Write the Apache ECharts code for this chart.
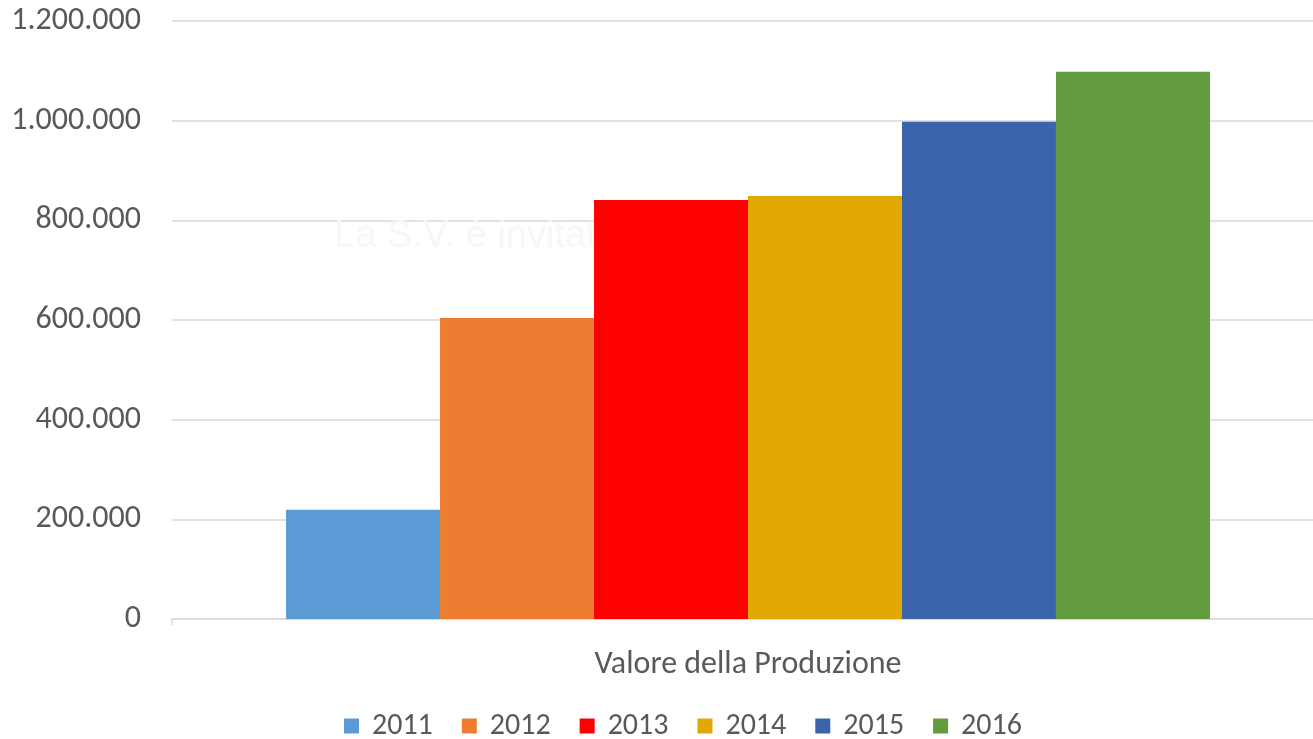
<!DOCTYPE html>
<html>
<head>
<meta charset="utf-8">
<script src="https://cdn.jsdelivr.net/npm/echarts@6/dist/echarts.min.js"></script>
<style>
html,body{margin:0;padding:0;background:#fff;}
#c{width:1313px;height:739px;}
</style>
</head>
<body>
<div id="c"></div>
<script>
const categories = ['Valore della Produzione'];
const years = ['2011', '2012', '2013', '2014', '2015', '2016'];
const values = [219000, 604000, 841000, 849000, 998000, 1098000];
const colors = ['#5b9bd5', '#ed7d31', '#ff0000', '#e0a800', '#3c64ac', '#629a3e'];
const yTicks = { min: 0, max: 1200000, interval: 200000 };

function fmt(v) {
  return String(v).replace(/\B(?=(\d{3})+(?!\d))/g, '.');
}

const chart = echarts.init(document.getElementById('c'), null, { renderer: 'canvas' });
const font = 'Carlito, Calibri, "Open Sans", "Noto Sans", sans-serif';

chart.setOption({
  backgroundColor: '#ffffff',
  animation: false,
  textStyle: { fontFamily: font },
  graphic: [{
    type: 'text',
    left: 334,
    top: 218,
    z: 1,
    silent: true,
    style: {
      text: 'La S.V. è invitata',
      fontSize: 38,
      fontFamily: 'Liberation Sans, Arial, sans-serif',
      fill: '#f7f7f7'
    }
  }],
  grid: { left: 172, right: -11, top: 21, bottom: 120, containLabel: false, outerBoundsMode: 'none' },
  legend: {
    top: 706,
    left: 339,
    itemWidth: 15,
    itemHeight: 15,
    itemGap: 29,
    icon: 'rect',
    textStyle: { fontSize: 30, color: '#595959', fontFamily: font, padding: [0, 0, 0, 8] },
    data: years
  },
  xAxis: {
    type: 'category',
    data: categories,
    axisLine: { show: true, lineStyle: { color: '#d9d9d9', width: 1.5 } },
    axisTick: { show: true, length: 6, lineStyle: { color: '#d9d9d9', width: 1.5 } },
    axisLabel: { fontSize: 32, color: '#595959', margin: 30, fontFamily: font }
  },
  yAxis: {
    type: 'value',
    min: yTicks.min,
    max: yTicks.max,
    interval: yTicks.interval,
    axisLine: { show: false },
    axisTick: { show: false },
    splitLine: { lineStyle: { color: '#d9d9d9', width: 1.5 } },
    axisLabel: { fontSize: 32, color: '#595959', margin: 31, formatter: fmt, fontFamily: font }
  },
  series: years.map((y, i) => ({
    name: y,
    type: 'bar',
    data: [values[i]],
    barGap: 0,
    barCategoryGap: '19.8%',
    itemStyle: { color: colors[i] },
    z: 2
  }))
});
</script>
</body>
</html>
